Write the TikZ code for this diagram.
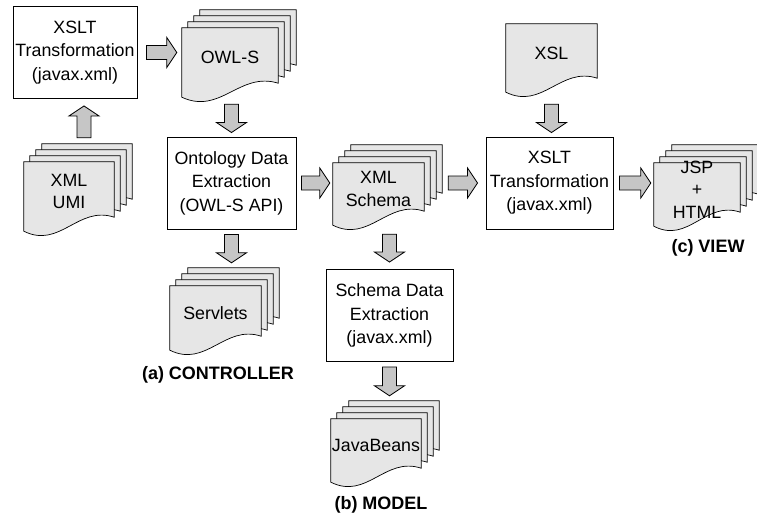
\documentclass[tikz,border=0pt]{standalone}
\usepackage{fontspec}
\setmainfont{Liberation Sans}
\usepackage{tikz}
\usetikzlibrary{calc, backgrounds}
\definecolor{sheetgray}{HTML}{E6E6E6}
\definecolor{arrowgray}{HTML}{C6C6C6}

\newcommand\docsheet[2]{%
  \path[sheet] let \p1=(#1.south west), \p2=(#1.north east), \n1={#2*6pt} in
    (\x1+\n1,\y2+\n1) -- (\x2+\n1,\y2+\n1) -- (\x2+\n1,\y1+\n1+4pt)
    .. controls ({\x2+\n1-0.4*(\x2-\x1)},{\y1+\n1+16pt}) and ({\x1+\n1+0.4*(\x2-\x1)},{\y1+\n1-28pt}) .. (\x1+\n1,\y1+\n1-10pt) -- cycle;}

\begin{document}
\begin{tikzpicture}[x=1pt, y=-1pt,
    box/.style={draw, line width=0.9pt, fill=white, inner sep=0pt, align=center,
      minimum width=127pt, minimum height=92pt, font=\fontsize{17.8}{23.5}\selectfont},
    doctext/.style={inner sep=0pt, align=center, font=\fontsize{17.8}{22.5}\selectfont},
    doc/.style={inner sep=0pt, minimum width=91pt, label={[doctext]center:#1}},
    sheet/.style={draw, fill=sheetgray, line width=0.7pt},
    partname/.style={font=\bfseries\fontsize{18}{22}\selectfont},
    fat/.style={draw, fill=arrowgray, line width=0.8pt, line join=miter, to path={
      let \p1=($(\tikztotarget)-(\tikztostart)$), \n1={veclen(\x1,\y1)}, \n2={atan2(\y1,\x1)} in
      ($(\tikztostart)+(\n2-90:7pt)$) -- ($(\tikztostart)+(\n2:\n1-10pt)+(\n2-90:7pt)$)
      -- ($(\tikztostart)+(\n2:\n1-10pt)+(\n2-90:15pt)$) -- (\tikztotarget)
      -- ($(\tikztostart)+(\n2:\n1-10pt)+(\n2+90:15pt)$) -- ($(\tikztostart)+(\n2:\n1-10pt)+(\n2+90:7pt)$)
      -- ($(\tikztostart)+(\n2+90:7pt)$) -- cycle}}]
  \useasboundingbox (0,0) rectangle (757,515);

  \node[box, minimum width=124pt] (xslta) at (75,52.5) {XSLT\\Transformation\\(javax.xml)};
  \node[doc={OWL-S}, minimum width=96pt, minimum height=59pt] (owls) at (230,57.5) {};
  \node[doc={XML\\UMI}, minimum width=90pt, minimum height=59pt] (umi) at (69,191.5) {};
  \node[box, minimum width=129pt] (onto) at (231.5,183) {Ontology Data\\Extraction\\(OWL-S API)};
  \node[doc={Servlets}, minimum height=54pt] (servlets) at (215.5,313) {};
  \node[doc={XML\\Schema}, minimum height=52pt] (schema) at (378.5,189) {};
  \node[box] (sde) at (389.5,315.5) {Schema Data\\Extraction\\(javax.xml)};
  \node[doc={JavaBeans}, minimum width=90pt, minimum height=53pt] (beans) at (376,445.5) {};
  \node[doc={XSL}, minimum height=58pt] (xsl) at (551.5,53) {};
  \node[box] (xsltb) at (549.5,183) {XSLT\\Transformation\\(javax.xml)};
  \node[doc={JSP\\+\\HTML}, minimum width=86pt, minimum height=53pt] (jsp) at (697,189.5) {};

  \node[partname] (ctrl) at (218,375) {(a) CONTROLLER};
  \node[partname] (model) at (381,505) {(b) MODEL};
  \node[partname] (view) at (708,248) {(c) VIEW};

  \begin{scope}[on background layer]
    \foreach \d in {owls,umi,servlets,schema,beans,jsp}
      \foreach \k in {3,2,1,0} {\docsheet{\d}{\k}}
    \docsheet{xsl}{0}
  \end{scope}

  \draw[fat] ([xshift=9pt]xslta.east) to ($(xslta.east -| owls.west)+(-5pt,0)$);
  \draw[fat] ([shift={(15pt,24pt)}]umi.north) to ([shift={(9pt,-7pt)}]xslta.south);
  \draw[fat] ([shift={(1.5pt,-17pt)}]owls.south) to ([yshift=4pt]onto.north);
  \draw[fat] ([yshift=-5pt]onto.south) to ([shift={(16pt,23pt)}]servlets.north);
  \draw[fat] ([xshift=5pt]onto.east) to ($(onto.east -| schema.west)+(-3pt,0)$);
  \draw[fat] ($(sde.north |- schema.south)+(0,-19pt)$) to ([yshift=7pt]sde.north);
  \draw[fat] ($(schema.east |- xsltb.west)+(24pt,0)$) to ([xshift=-8pt]xsltb.west);
  \draw[fat] ([yshift=-5pt]sde.south) to ($(sde.south |- beans.north)+(0,23pt)$);
  \draw[fat] ([yshift=-22pt]xsl.south) to ($(xsl.south |- xsltb.north)+(0,4pt)$);
  \draw[fat] ([xshift=6pt]xsltb.east) to ($(xsltb.east -| jsp.west)+(-3pt,0)$);
\end{tikzpicture}
\end{document}
